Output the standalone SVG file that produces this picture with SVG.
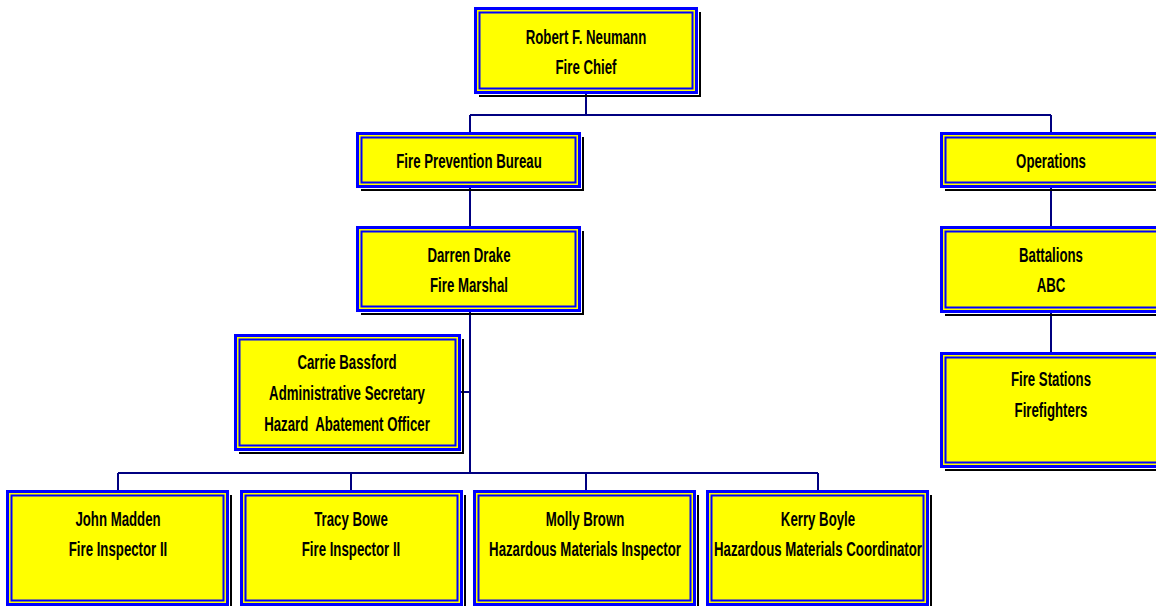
<svg xmlns="http://www.w3.org/2000/svg" width="1156" height="606" viewBox="0 0 1156 606">
<style>
.sh{fill:none;stroke:#000;stroke-width:2}
.bx{fill:#ffff00;stroke:#0000ff;stroke-width:3}
.in{fill:none;stroke:#0000ff;stroke-width:2}
.t{font-family:"Liberation Sans",Arial,sans-serif;font-weight:bold;font-size:21px;fill:#000;text-anchor:middle}
.c{fill:none;stroke:#000080;stroke-width:2}
</style>
<rect width="1156" height="606" fill="#fff"/>
<g id="connectors">
<path class="c" d="M586 93V115M470 115H1051M470 115V133M1051 115V133"/>
<path class="c" d="M470 187V227M470 311V473M460 392H470"/>
<path class="c" d="M118 473H818M118 473V491M351 473V491M586 473V491M818 473V491"/>
<path class="c" d="M1051 187V227M1051 312V353"/>
</g>
<g id="chief">
<path class="sh" d="M479 96H700V12"/>
<rect class="bx" x="475.5" y="8.5" width="221" height="84"/>
<rect class="in" x="479.5" y="12.5" width="213" height="76"/>
<text class="t" transform="matrix(0.63 0 0 1 586 0)" x="0" y="44">Robert F. Neumann</text>
<text class="t" transform="matrix(0.63 0 0 1 586 0)" x="0" y="74">Fire Chief</text>
</g>
<g id="fpb">
<path class="sh" d="M361 190H583V137"/>
<rect class="bx" x="357.5" y="133.5" width="222" height="53"/>
<rect class="in" x="361.5" y="137.5" width="214" height="45"/>
<text class="t" transform="matrix(0.63 0 0 1 469 0)" x="0" y="168">Fire Prevention Bureau</text>
</g>
<g id="operations">
<path class="sh" d="M945 190H1160"/>
<rect class="bx" x="941.5" y="133.5" width="230" height="53"/>
<rect class="in" x="945.5" y="137.5" width="230" height="45"/>
<text class="t" transform="matrix(0.63 0 0 1 1051 0)" x="0" y="168">Operations</text>
</g>
<g id="darren">
<path class="sh" d="M361 314H583V231"/>
<rect class="bx" x="357.5" y="227.5" width="222" height="83"/>
<rect class="in" x="361.5" y="231.5" width="214" height="75"/>
<text class="t" transform="matrix(0.63 0 0 1 469 0)" x="0" y="262">Darren Drake</text>
<text class="t" transform="matrix(0.63 0 0 1 469 0)" x="0" y="292">Fire Marshal</text>
</g>
<g id="battalions">
<path class="sh" d="M945 315H1160"/>
<rect class="bx" x="941.5" y="227.5" width="230" height="84"/>
<rect class="in" x="945.5" y="231.5" width="230" height="76"/>
<text class="t" transform="matrix(0.63 0 0 1 1051 0)" x="0" y="262">Battalions</text>
<text class="t" transform="matrix(0.63 0 0 1 1051 0)" x="0" y="292">ABC</text>
</g>
<g id="carrie">
<path class="sh" d="M239 453H463V339"/>
<rect class="bx" x="235.5" y="335.5" width="224" height="114"/>
<rect class="in" x="239.5" y="339.5" width="216" height="106"/>
<text class="t" transform="matrix(0.63 0 0 1 347 0)" x="0" y="369">Carrie Bassford</text>
<text class="t" transform="matrix(0.63 0 0 1 347 0)" x="0" y="400">Administrative Secretary</text>
<text class="t" transform="matrix(0.63 0 0 1 347 0)" x="0" y="431" xml:space="preserve">Hazard  Abatement Officer</text>
</g>
<g id="stations">
<path class="sh" d="M945 470H1160"/>
<rect class="bx" x="941.5" y="353.5" width="230" height="113"/>
<rect class="in" x="945.5" y="357.5" width="230" height="105"/>
<text class="t" transform="matrix(0.63 0 0 1 1051 0)" x="0" y="386">Fire Stations</text>
<text class="t" transform="matrix(0.63 0 0 1 1051 0)" x="0" y="417">Firefighters</text>
</g>
<g id="john">
<path class="sh" d="M231 495V610"/>
<rect class="bx" x="7.5" y="491.5" width="220" height="113"/>
<rect class="in" x="11.5" y="495.5" width="212" height="105"/>
<text class="t" transform="matrix(0.63 0 0 1 118 0)" x="0" y="526">John Madden</text>
<text class="t" transform="matrix(0.63 0 0 1 118 0)" x="0" y="556">Fire Inspector II</text>
</g>
<g id="tracy">
<path class="sh" d="M465 495V610"/>
<rect class="bx" x="241.5" y="491.5" width="220" height="113"/>
<rect class="in" x="245.5" y="495.5" width="212" height="105"/>
<text class="t" transform="matrix(0.63 0 0 1 351 0)" x="0" y="526">Tracy Bowe</text>
<text class="t" transform="matrix(0.63 0 0 1 351 0)" x="0" y="556">Fire Inspector II</text>
</g>
<g id="molly">
<path class="sh" d="M698 495V610"/>
<rect class="bx" x="474.5" y="491.5" width="220" height="113"/>
<rect class="in" x="478.5" y="495.5" width="212" height="105"/>
<text class="t" transform="matrix(0.63 0 0 1 585 0)" x="0" y="526">Molly Brown</text>
<text class="t" transform="matrix(0.63 0 0 1 585 0)" x="0" y="556">Hazardous Materials Inspector</text>
</g>
<g id="kerry">
<path class="sh" d="M931 495V610"/>
<rect class="bx" x="707.5" y="491.5" width="220" height="113"/>
<rect class="in" x="711.5" y="495.5" width="212" height="105"/>
<text class="t" transform="matrix(0.63 0 0 1 818 0)" x="0" y="526">Kerry Boyle</text>
<text class="t" transform="matrix(0.63 0 0 1 818 0)" x="0" y="556">Hazardous Materials Coordinator</text>
</g>
</svg>
